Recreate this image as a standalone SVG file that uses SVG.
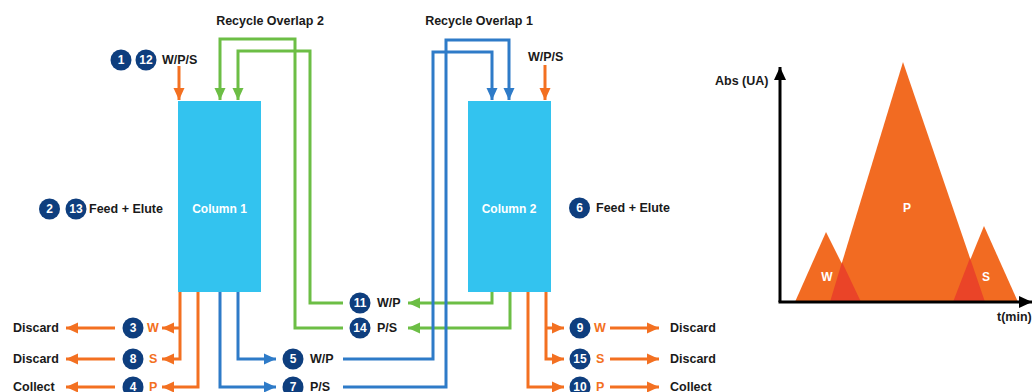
<svg xmlns="http://www.w3.org/2000/svg" width="1032" height="392" viewBox="0 0 1032 392">
<style>
text{font-family:"Liberation Sans",Arial,sans-serif;font-weight:bold;font-size:12.5px;fill:#1a1a1a;dominant-baseline:central}
.col{fill:#33C3EF}
.colt{fill:#ffffff;text-anchor:middle;font-size:12px}
.b{fill:#0E3E7E}
.bt{fill:#ffffff;text-anchor:middle;font-size:12px}
.ot{fill:#F37021}
.o{stroke:#F37021;stroke-width:3;fill:none}
.g{stroke:#6CBE45;stroke-width:3;fill:none}
.u{stroke:#2E7BC8;stroke-width:3;fill:none}
.ax{stroke:#000;stroke-width:3;fill:none}
.ct{fill:#ffffff;text-anchor:middle;font-size:12px}
</style>
<defs>
<marker id="ao" markerUnits="userSpaceOnUse" markerWidth="13" markerHeight="13" viewBox="0 0 13 13" refX="12" refY="6.5" orient="auto"><path d="M0,1 L12,6.5 L0,12 Z" fill="#F37021"/></marker>
<marker id="ag" markerUnits="userSpaceOnUse" markerWidth="13" markerHeight="13" viewBox="0 0 13 13" refX="12" refY="6.5" orient="auto"><path d="M0,1 L12,6.5 L0,12 Z" fill="#6CBE45"/></marker>
<marker id="au" markerUnits="userSpaceOnUse" markerWidth="13" markerHeight="13" viewBox="0 0 13 13" refX="12" refY="6.5" orient="auto"><path d="M0,1 L12,6.5 L0,12 Z" fill="#2E7BC8"/></marker>
<marker id="ak" markerUnits="userSpaceOnUse" markerWidth="14" markerHeight="14" viewBox="0 0 14 14" refX="13" refY="7" orient="auto"><path d="M0,1 L13,7 L0,13 Z" fill="#000"/></marker>
</defs>

<g id="connectors">
  <path class="o" d="M179,66 V100" marker-end="url(#ao)"/>
  <path class="o" d="M545,65 V100" marker-end="url(#ao)"/>
  <path class="g" d="M343,328 H295 V39 H220 V100" marker-end="url(#ag)"/>
  <path class="g" d="M343,303 H310 V51 H238 V100" marker-end="url(#ag)"/>
  <path class="g" d="M492,292 V303 H408" marker-end="url(#ag)"/>
  <path class="g" d="M510,292 V328 H408" marker-end="url(#ag)"/>
  <path class="u" d="M343,359 H433 V52 H492 V100" marker-end="url(#au)"/>
  <path class="u" d="M343,387 H446 V40 H509 V100" marker-end="url(#au)"/>
  <path class="u" d="M238,292 V359 H276" marker-end="url(#au)"/>
  <path class="u" d="M220,292 V387 H276" marker-end="url(#au)"/>
  <path class="o" d="M180,292 V359 H162" marker-end="url(#ao)"/>
  <path class="o" d="M180,328 H162" marker-end="url(#ao)"/>
  <path class="o" d="M198,292 V387 H162" marker-end="url(#ao)"/>
  <path class="o" d="M115,328 H66" marker-end="url(#ao)"/>
  <path class="o" d="M115,359 H66" marker-end="url(#ao)"/>
  <path class="o" d="M115,387 H66" marker-end="url(#ao)"/>
  <path class="o" d="M546,292 V359 H564" marker-end="url(#ao)"/>
  <path class="o" d="M546,328 H564" marker-end="url(#ao)"/>
  <path class="o" d="M528,292 V387 H564" marker-end="url(#ao)"/>
  <path class="o" d="M610,328 H659" marker-end="url(#ao)"/>
  <path class="o" d="M610,359 H659" marker-end="url(#ao)"/>
  <path class="o" d="M610,387 H659" marker-end="url(#ao)"/>
</g>

<g id="title-ro2"><text x="270" y="21" text-anchor="middle">Recycle Overlap 2</text></g>
<g id="title-ro1"><text x="479" y="21" text-anchor="middle">Recycle Overlap 1</text></g>

<g id="column1">
  <rect class="col" x="178" y="101" width="83" height="191"/>
  <text class="colt" x="219.5" y="209">Column 1</text>
</g>
<g id="column2">
  <rect class="col" x="468" y="101" width="83" height="191"/>
  <text class="colt" x="509" y="209">Column 2</text>
</g>

<g id="feed1">
  <circle class="b" cx="121" cy="60" r="10.5"/><text class="bt" x="121" y="60">1</text>
  <circle class="b" cx="146" cy="60" r="10.5"/><text class="bt" x="146" y="60">12</text>
  <text x="162" y="60">W/P/S</text>
</g>
<g id="feed2"><text x="528" y="57">W/P/S</text></g>

<g id="fe1">
  <circle class="b" cx="49.5" cy="209" r="10.5"/><text class="bt" x="49.5" y="209">2</text>
  <circle class="b" cx="76" cy="209" r="10.5"/><text class="bt" x="76" y="209">13</text>
  <text x="89" y="209">Feed + Elute</text>
</g>
<g id="fe2">
  <circle class="b" cx="579.5" cy="208" r="10.5"/><text class="bt" x="579.5" y="208">6</text>
  <text x="596" y="208">Feed + Elute</text>
</g>

<g id="out3">
  <text x="13" y="328">Discard</text>
  <circle class="b" cx="133" cy="328" r="10.5"/><text class="bt" x="133" y="328">3</text>
  <text class="ot" x="147" y="328">W</text>
</g>
<g id="out8">
  <text x="13" y="359">Discard</text>
  <circle class="b" cx="133" cy="359" r="10.5"/><text class="bt" x="133" y="359">8</text>
  <text class="ot" x="149" y="359">S</text>
</g>
<g id="out4">
  <text x="13" y="387">Collect</text>
  <circle class="b" cx="133" cy="387" r="10.5"/><text class="bt" x="133" y="387">4</text>
  <text class="ot" x="149" y="387">P</text>
</g>

<g id="out5">
  <circle class="b" cx="293" cy="359" r="10.5"/><text class="bt" x="293" y="359">5</text>
  <text x="310" y="359">W/P</text>
</g>
<g id="out7">
  <circle class="b" cx="293" cy="387" r="10.5"/><text class="bt" x="293" y="387">7</text>
  <text x="310" y="387">P/S</text>
</g>
<g id="out11">
  <circle class="b" cx="360" cy="303" r="10.5"/><text class="bt" x="360" y="303">11</text>
  <text x="377" y="303">W/P</text>
</g>
<g id="out14">
  <circle class="b" cx="360" cy="328" r="10.5"/><text class="bt" x="360" y="328">14</text>
  <text x="377" y="328">P/S</text>
</g>

<g id="out9">
  <circle class="b" cx="580" cy="328" r="10.5"/><text class="bt" x="580" y="328">9</text>
  <text class="ot" x="594" y="328">W</text>
  <text x="670" y="328">Discard</text>
</g>
<g id="out15">
  <circle class="b" cx="580" cy="359" r="10.5"/><text class="bt" x="580" y="359">15</text>
  <text class="ot" x="596" y="359">S</text>
  <text x="670" y="359">Discard</text>
</g>
<g id="out10">
  <circle class="b" cx="580" cy="387" r="10.5"/><text class="bt" x="580" y="387">10</text>
  <text class="ot" x="596" y="387">P</text>
  <text x="670" y="387">Collect</text>
</g>

<g id="chart">
  <polygon points="795,302 826,232 861,302" fill="#F26B22"/>
  <polygon points="953,302 984,226 1018,302" fill="#F26B22"/>
  <polygon points="830,302 903,62 985,302" fill="#F26B22"/>
  <polygon points="830,302 842,262 861,302" fill="#EA4428"/>
  <polygon points="953,302 970,258 985,302" fill="#EA4428"/>
  <text class="ct" x="827" y="277">W</text>
  <text class="ct" x="907" y="208">P</text>
  <text class="ct" x="986" y="277">S</text>
  <path class="ax" d="M780,302 V67" marker-end="url(#ak)"/>
  <path class="ax" d="M778.5,302 H1032" marker-end="url(#ak)"/>
  <text x="715" y="81">Abs (UA)</text>
  <text x="997" y="317">t(min)</text>
</g>
</svg>
